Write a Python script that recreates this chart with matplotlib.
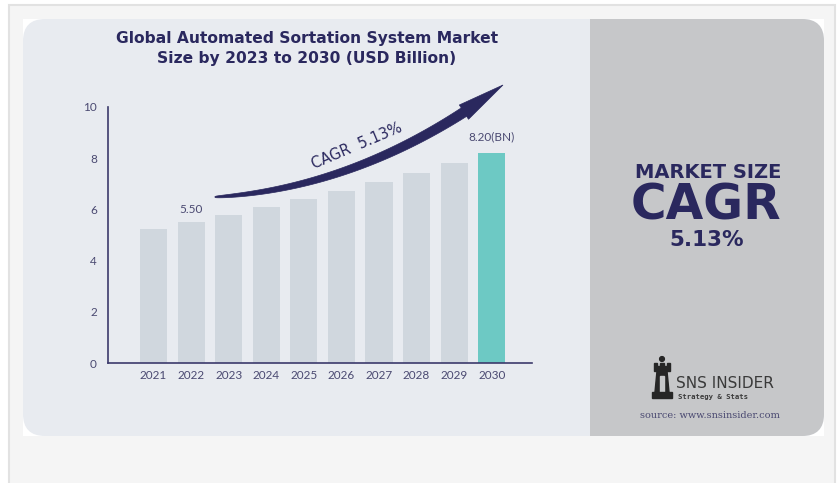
import matplotlib.pyplot as plt
import numpy as np
from matplotlib.patches import FancyBboxPatch, Rectangle, Polygon, Circle

# data
years = ['2021', '2022', '2023', '2024', '2025', '2026', '2027', '2028', '2029', '2030']
market_size = [5.22, 5.50, 5.79, 6.09, 6.40, 6.73, 7.07, 7.44, 7.81, 8.20]
y_ticks = [0, 2, 4, 6, 8, 10]
labelled = {1: '5.50', 9: '8.20(BN)'}
title_lines = ['Global Automated Sortation System Market',
               'Size by 2023 to 2030 (USD Billion)']
cagr_text = 'CAGR  5.13%'

NAVY = '#2a285e'
TEXT = '#4a4971'
BAR = '#d0d7de'
TEAL = '#6dc9c4'
AXIS = '#3c3a6b'

fig = plt.figure(figsize=(8.4, 4.83), dpi=100)
fig.patch.set_facecolor('white')

# background in pixel coords
bg = fig.add_axes([0, 0, 1, 1])
bg.set_xlim(0, 840)
bg.set_ylim(483, 0)
bg.axis('off')

bg.add_patch(Rectangle((9, 5), 826, 500, facecolor='#f5f5f5', edgecolor='#e2e2e2', lw=1.5))
bg.add_patch(Rectangle((23, 19), 801, 417, facecolor='white', edgecolor='none'))
card = FancyBboxPatch((23, 19), 801, 417, boxstyle='round,pad=0,rounding_size=22',
                      facecolor='#e8ebf0', edgecolor='none')
bg.add_patch(card)
right = Rectangle((590, 19), 240, 420, facecolor='#c6c7c9', edgecolor='none')
bg.add_patch(right)
right.set_clip_path(card)

# title
for i, line in enumerate(title_lines):
    bg.text(307, 38 + i * 21, line, ha='center', va='center', fontsize=11.2,
            fontweight='bold', color=NAVY)

# curved arrow
P0 = np.array([215, 197.0])
C = np.array([365, 188.0])
P2 = np.array([503, 85.0])
t = np.linspace(0, 1, 200)
pts = ((1 - t) ** 2)[:, None] * P0 + (2 * (1 - t) * t)[:, None] * C + (t ** 2)[:, None] * P2
tan = np.gradient(pts, axis=0)
tan /= np.linalg.norm(tan, axis=1)[:, None]
nrm = np.column_stack([-tan[:, 1], tan[:, 0]])
head = 0.86
shaft = t <= head
hw = 0.5 + 4.5 * np.sqrt(t[shaft] / head)
upper = pts[shaft] + nrm[shaft] * hw[:, None]
lower = pts[shaft] - nrm[shaft] * hw[:, None]
ib = np.argmax(t > head) - 1
base = pts[ib]
hpts = [base + nrm[ib] * 8.5, P2, base - nrm[ib] * 8.5]
poly = np.vstack([upper, hpts, lower[::-1]])
bg.add_patch(Polygon(poly, closed=True, facecolor=NAVY, edgecolor=NAVY, lw=0.5))
bg.text(357, 146, cagr_text, rotation=23, ha='center', va='center', fontsize=10.5,
        color=NAVY)

# right panel text
bg.text(708, 172, 'MARKET SIZE', ha='center', va='center', fontsize=14,
        fontweight='heavy', color=NAVY)
bg.text(706, 205, 'CAGR', ha='center', va='center', fontsize=35,
        fontweight='heavy', color=NAVY)
bg.text(707, 240, '5.13%', ha='center', va='center', fontsize=15.5,
        fontweight='heavy', color=NAVY)

# logo
ink = '#262626'
bg.add_patch(Circle((662, 359), 2.4, color=ink))
bg.add_patch(Polygon([(654, 363), (657, 363), (657, 365.5), (660, 365.5), (660, 363), (664, 363),
                      (664, 365.5), (667, 365.5), (667, 363), (670, 363), (670, 371), (654, 371)],
                     closed=True, color=ink))
bg.add_patch(Polygon([(657, 371), (667, 371), (669, 392), (655, 392)], closed=True, color=ink))
bg.add_patch(Rectangle((660, 376), 4, 16, color='#c6c7c9'))
bg.add_patch(Rectangle((652, 392), 20, 5.5, color=ink))
bg.text(676, 383, 'SNS INSIDER', ha='left', va='center', fontsize=11,
        family='Liberation Sans Narrow', color='#3a3a3a')
bg.text(678, 396.5, 'Strategy & Stats', ha='left', va='center', fontsize=5.2,
        family='DejaVu Sans Mono', fontweight='bold', color='#3a3a3a')
bg.text(710, 416, 'source: www.snsinsider.com', ha='center', va='center', fontsize=7,
        family='DejaVu Serif', color='#4a4971')

# chart
ax = fig.add_axes([108 / 840, (483 - 363) / 483, (532 - 108) / 840, (363 - 107) / 483])
ax.patch.set_alpha(0)
x = np.arange(len(years))
colors = [BAR] * (len(years) - 1) + [TEAL]
ax.bar(x, market_size, width=0.72, color=colors)
ax.set_xlim(-1.21, 10.07)
ax.set_ylim(0, 10)
ax.set_xticks(x)
ax.set_xticklabels(years)
ax.set_yticks(y_ticks)
for s in ['top', 'right']:
    ax.spines[s].set_visible(False)
for s in ['left', 'bottom']:
    ax.spines[s].set_color(AXIS)
    ax.spines[s].set_linewidth(1.2)
ax.tick_params(axis='both', length=0, labelsize=8.5, labelcolor=TEXT)
ax.tick_params(axis='y', pad=8)
ax.tick_params(axis='x', pad=5)
for lbl in ax.get_xticklabels() + ax.get_yticklabels():
    lbl.set_family('Lato')

for i, txt in labelled.items():
    off = 9 if i == 1 else 12
    ax.annotate(txt, xy=(x[i], market_size[i]), xytext=(0, off), textcoords='offset points',
                ha='center', va='center', fontsize=8.5, color=TEXT, family='Lato')

fig.savefig('out.png', dpi=100)
